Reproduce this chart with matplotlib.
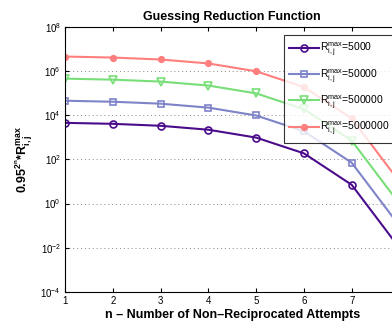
import numpy as np
import matplotlib
matplotlib.use("Agg")
import matplotlib.pyplot as plt

plt.rcParams['font.family'] = ['Liberation Sans', 'DejaVu Sans']
plt.rcParams['mathtext.fontset'] = 'custom'
plt.rcParams['mathtext.rm'] = 'Liberation Sans'
plt.rcParams['mathtext.bf'] = 'Liberation Sans:bold'
plt.rcParams['mathtext.it'] = 'Liberation Sans:italic'

n = [1, 2, 3, 4, 5, 6, 7, 8]
r_5000 = [4510, 4070, 3320, 2200, 970, 188, 7.1, 0.0098]
r_50000 = [45100, 40700, 33200, 22000, 9700, 1880, 71, 0.098]
r_500000 = [451000, 407000, 332000, 220000, 97000, 18800, 710, 0.98]
r_5000000 = [4510000, 4070000, 3320000, 2200000, 970000, 188000, 7100, 9.8]

labels = ['5000', '50000', '500000', '5000000']
colors = ['#4b0c8c', '#7f83c8', '#78df78', '#ff7f7f']
markers = ['o', 's', 'v', 'o']
fills = ['none', 'none', 'none', '#ff7f7f']
sizes = [5, 5, 6, 4]

fig = plt.figure(figsize=(3.92, 3.29), dpi=100)
ax = fig.add_axes([0.166, 0.1125, 0.853, 0.806])

for vals, lab, c, m, fc, ms in zip([r_5000, r_50000, r_500000, r_5000000],
                                   labels, colors, markers, fills, sizes):
    ax.semilogy(n, vals, color=c, marker=m, mfc=fc, mec=c, ms=ms, mew=1.2,
                lw=1.5, label=r'R$_{\mathrm{i,j}}^{\mathrm{max}}$=' + lab)

ax.set_xlim(1, 8)
ax.set_ylim(1e-4, 1e8)
ax.set_yticks([1e-4, 1e-2, 1e0, 1e2, 1e4, 1e6, 1e8])
ax.minorticks_off()
ax.set_xticks(n[:-1])
ax.yaxis.grid(True, ls=(0, (1, 3)), color='#888888', lw=0.7)
ax.tick_params(direction='in', top=True, right=True, labelsize=7, length=3, pad=3)
ax.spines['right'].set_visible(False)

ax.set_title('Guessing Reduction Function', fontsize=9, fontweight='bold', pad=5)
ax.set_xlabel('n \u2013 Number of Non\u2013Reciprocated Attempts', fontsize=9,
              fontweight='bold', labelpad=2)
ax.set_ylabel(r'$\mathbf{0.95^{2^n}}$*R$_{\mathbf{i,j}}^{\mathbf{max}}$', fontsize=9,
              fontweight='bold', labelpad=4)

leg = fig.legend(loc='upper left', bbox_to_anchor=(279 / 392, 1 - 30 / 329),
                 fontsize=7.5, frameon=True, fancybox=False, edgecolor='black',
                 handlelength=2.8, borderpad=0.5, labelspacing=0.8, handletextpad=0.15)
leg.get_frame().set_linewidth(0.8)

fig.savefig('out.png', dpi=100)
